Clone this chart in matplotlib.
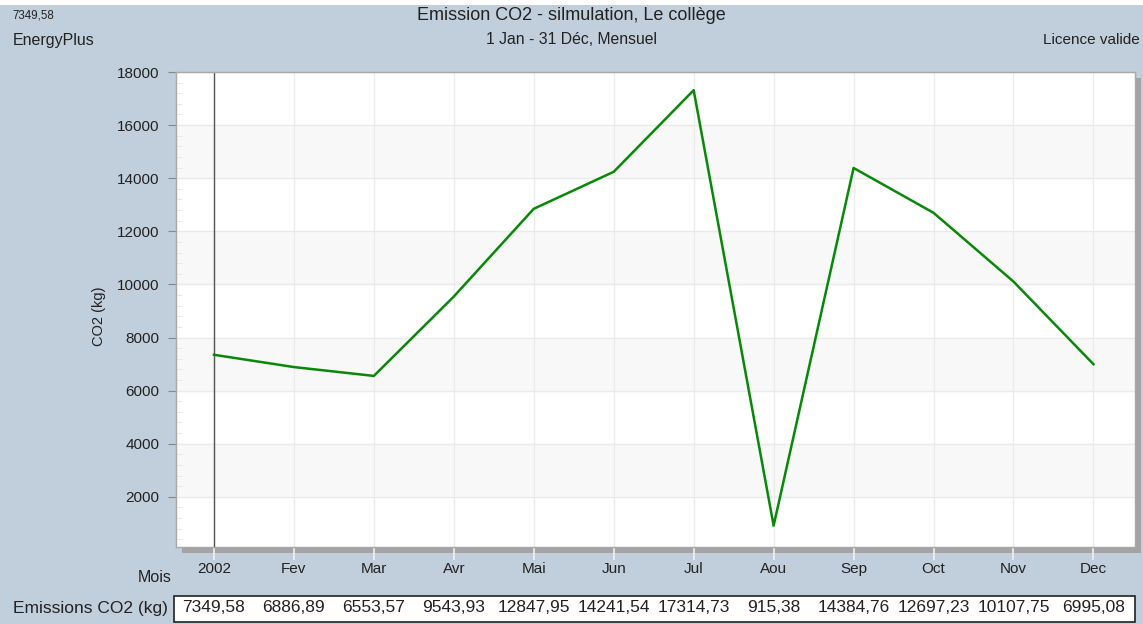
import matplotlib.pyplot as plt
import matplotlib.transforms as mtransforms
from matplotlib.patches import Rectangle
from matplotlib.ticker import MultipleLocator

plt.rcParams['font.family'] = ['Liberation Sans', 'DejaVu Sans']

# monthly CO2 emissions (kg)
months = ['2002', 'Fev', 'Mar', 'Avr', 'Mai', 'Jun', 'Jul', 'Aou', 'Sep', 'Oct', 'Nov', 'Dec']
co2 = [7349.58, 6886.89, 6553.57, 9543.93, 12847.95, 14241.54, 17314.73,
       915.38, 14384.76, 12697.23, 10107.75, 6995.08]
yticks = [2000, 4000, 6000, 8000, 10000, 12000, 14000, 16000, 18000]

W, H = 1143, 624
bg = '#C1CEDB'
txt = '#222222'
fig = plt.figure(figsize=(W / 100, H / 100), dpi=100, facecolor=bg)

# thin white strip along the top edge
fig.patches.append(Rectangle((0, 1 - 5 / H), 1, 5 / H, transform=fig.transFigure,
                             facecolor='white', edgecolor='none', zorder=0))

left, right, top, bottom = 176, 1135, 72, 547
pos = [left / W, 1 - bottom / H, (right - left) / W, (bottom - top) / H]

# drop shadow under the plot area
fig.patches.append(Rectangle((pos[0] + 6 / W, pos[1] - 6 / H), pos[2], pos[3],
                             transform=fig.transFigure, facecolor='#A3A3A3',
                             edgecolor='none', zorder=0.5))

ax = fig.add_axes(pos)
ax.set_zorder(1)
ax.set_facecolor('white')
x = list(range(len(months)))
ax.set_xlim(-0.475, 11.52)
ax.set_ylim(110, 18000)

# alternating bands
for lo in yticks[::2][:-1]:
    ax.axhspan(lo, lo + 2000, color='#F8F8F8', zorder=0)
for y in yticks:
    ax.axhline(y, color='#EBEBEB', lw=1, zorder=0.5)
for xi in x:
    ax.axvline(xi, color='#EBEBEB', lw=1, zorder=0.5)

ax.axvline(0, color='#555555', lw=1, zorder=1)
ax.plot(x, co2, color='#088808', lw=1.8, zorder=2)

ax.set_xticks(x)
ax.set_xticklabels(months)
ax.set_yticks(yticks)
ax.yaxis.set_minor_locator(MultipleLocator(400))
ax.tick_params(axis='x', direction='out', length=9, width=1.2, color='#F0F0F0',
               labelsize=11, pad=2, labelcolor=txt)
ax.tick_params(axis='y', which='major', direction='out', length=6, color='#888888',
               labelsize=11, pad=6, labelcolor=txt)
ax.tick_params(axis='y', which='minor', direction='in', length=4, color='#E6E6E6')
for s in ax.spines.values():
    s.set_color('#A8A8A8')
    s.set_linewidth(1)
ax.set_ylabel('CO2 (kg)', fontsize=10.5, color=txt)
ax.yaxis.set_label_coords(-0.073, 0.485)

# header texts
fig.text(0.5, 1 - 16 / H, 'Emission CO2 - silmulation, Le collège', ha='center', va='center',
         fontsize=13, color=txt)
fig.text(0.5, 1 - 40 / H, '1 Jan - 31 Déc, Mensuel', ha='center', va='center',
         fontsize=11.3, color=txt)
fig.text(12 / W, 1 - 15 / H, '7349,58', ha='left', va='center', fontsize=8.3, color=txt)
fig.text(13 / W, 1 - 40 / H, 'EnergyPlus', ha='left', va='center', fontsize=11.5, color=txt)
fig.text(1 - 3 / W, 1 - 40 / H, 'Licence valide', ha='right', va='center', fontsize=11,
         color=txt)
fig.text(172 / W, 1 - 578 / H, 'Mois', ha='right', va='center', fontsize=11.5, color=txt)

# value table under the axis
fig.patches.append(Rectangle((174 / W, 1 - 622 / H), (1135 - 174) / W, 26 / H,
                             transform=fig.transFigure, facecolor='white',
                             edgecolor=txt, lw=1.2, zorder=1))
fig.text(168 / W, 1 - 608 / H, 'Emissions CO2 (kg)', ha='right', va='center', fontsize=12.5,
         color=txt)
trans = mtransforms.blended_transform_factory(ax.transData, fig.transFigure)
for xi, v in zip(x, co2):
    fig.text(xi, 1 - 608 / H, f'{v:.2f}'.replace('.', ','), transform=trans,
             ha='center', va='center', fontsize=12.5, color=txt, zorder=2)

fig.savefig('out.png', dpi=100, facecolor=bg)
